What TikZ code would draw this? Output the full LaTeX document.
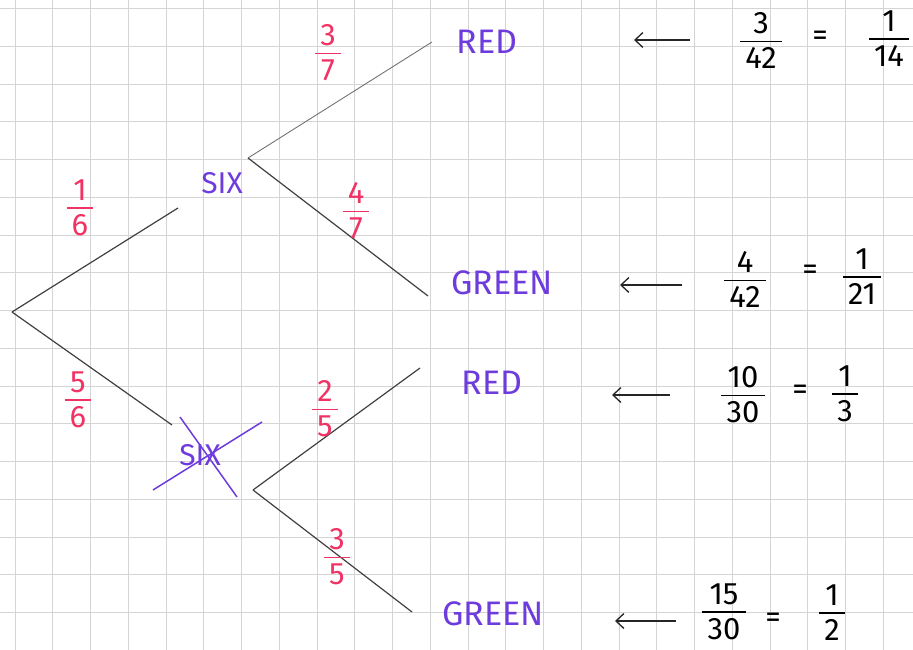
\documentclass[tikz,border=0pt]{standalone}
\usepackage{fontspec}
\setmainfont{Fira Sans}
\usetikzlibrary{calc,arrows.meta}
\definecolor{inkred}{RGB}{240,50,100}
\definecolor{inkpurple}{RGB}{110,60,220}
% hand-written fraction: number over a bar over number
\newcommand{\fr}[2]{{\renewcommand{\arraystretch}{0.7}\setlength{\arrayrulewidth}{1.5pt}%
  \begin{tabular}{@{\,}c@{\,}}#1\\\hline\rule{0pt}{0.85em}#2\end{tabular}}}
\begin{document}
\begin{tikzpicture}[x=1pt,y=-1pt,
  grid/.style={draw=black!17,line width=0.7pt},
  branch/.style={draw=black!75,line width=1.2pt},
  outcome/.style={text=inkpurple,font=\fontsize{34}{36}\selectfont,inner sep=0pt},
  prob/.style={text=inkred,font=\fontsize{31}{33}\selectfont,inner sep=0pt},
  res/.style={font=\fontsize{31}{33}\selectfont,inner sep=0pt},
  back/.style={-{Straight Barb[length=8pt,width=15pt]},line width=1.3pt,black!85}]
  \useasboundingbox (0,0) rectangle (913,650);
  % squared paper
  \foreach \i in {0,...,23} \draw[grid] (15+37.75*\i,0) -- (15+37.75*\i,650);
  \foreach \j in {0,...,16} \draw[grid] (0,8.5+37.75*\j) -- (913,8.5+37.75*\j);
  % tree
  \coordinate (root) at (12,312);
  \coordinate (sixin) at (178,208);
  \coordinate (notin) at (172,425);
  \coordinate (six) at (248,158);
  \coordinate (notsix) at (253,490);
  \coordinate (redA) at (432,42);
  \coordinate (greenA) at (428,296);
  \coordinate (redB) at (420,368);
  \coordinate (greenB) at (412,612);
  \draw[branch] (root) -- (sixin);
  \draw[branch] (root) -- (notin);
  \draw[branch,draw=black!55,line width=0.9pt] (six) -- (redA);
  \draw[branch] (six) -- (greenA);
  \draw[branch] (notsix) -- (redB);
  \draw[branch] (notsix) -- (greenB);
  % outcomes
  \node[outcome,font=\fontsize{30}{32}\selectfont] (lsix) at (222,183) {SIX};
  \node[outcome,font=\fontsize{30}{32}\selectfont] (lnot) at (200,455) {SIX};
  \draw[inkpurple,line width=1.5pt] ($(lnot)+(-47,35)$) -- ($(lnot)+(62,-33)$);
  \draw[inkpurple,line width=1.5pt] ($(lnot)+(-20,-38)$) -- ($(lnot)+(37,42)$);
  \node[outcome] (lredA) at (487,42) {RED};
  \node[outcome] (lgreenA) at (502,283) {GREEN};
  \node[outcome] (lredB) at (492,383) {RED};
  \node[outcome] (lgreenB) at (493,614) {GREEN};
  % branch probabilities
  \node[prob] (p16) at (80,211) {\fr{1}{6}};
  \node[prob] (p56) at (78,403) {\fr{5}{6}};
  \node[prob] (p37) at (328,56) {\fr{3}{7}};
  \node[prob] (p47) at (356,214) {\fr{4}{7}};
  \node[prob] (p25) at (325,412) {\fr{2}{5}};
  \node[prob] (p35) at (337,560) {\fr{3}{5}};
  % results
  \coordinate (arrA) at (690,40);
  \coordinate (arrB) at (682,285);
  \coordinate (arrC) at (670,395);
  \coordinate (arrD) at (676,621);
  \draw[back] (arrA) -- ++(-56,0);
  \draw[back] (arrB) -- ++(-62,0);
  \draw[back] (arrC) -- ++(-58,0);
  \draw[back] (arrD) -- ++(-61,0);
  \node[res] (qA) at (761,44) {\fr{3}{42}};
  \node[res] (eqA) at (820,38) {=};
  \node[res] (sA) at (889,42) {\fr{1}{14}};
  \node[res] (qB) at (745,283) {\fr{4}{42}};
  \node[res] (eqB) at (810,272) {=};
  \node[res] (sB) at (862,280) {\fr{1}{21}};
  \node[res] (qC) at (743,398) {\fr{10}{30}};
  \node[res] (eqC) at (800,392) {=};
  \node[res] (sC) at (845,397) {\fr{1}{3}};
  \node[res] (qD) at (724,615) {\fr{15}{30}};
  \node[res] (eqD) at (773,620) {=};
  \node[res] (sD) at (832,616) {\fr{1}{2}};
\end{tikzpicture}
\end{document}
